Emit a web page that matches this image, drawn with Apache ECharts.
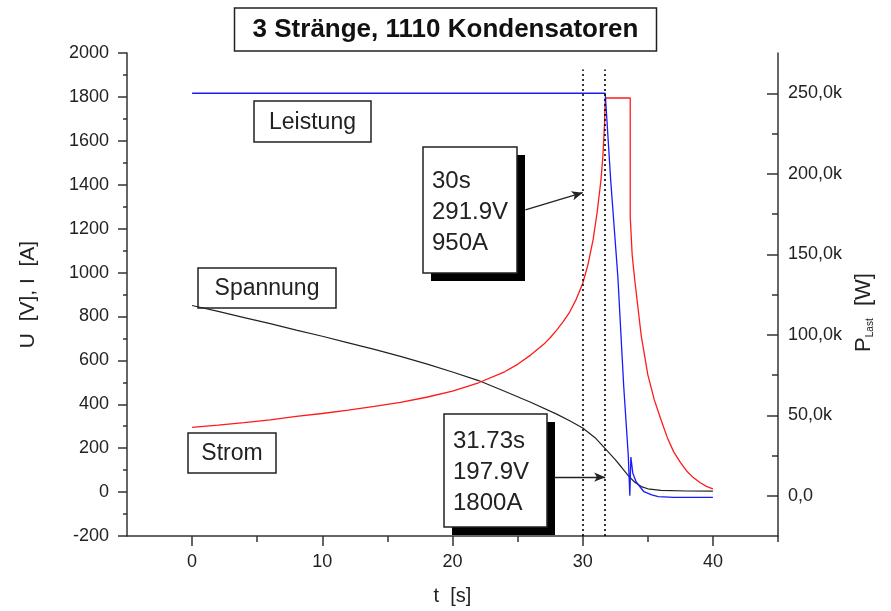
<!DOCTYPE html>
<html>
<head>
<meta charset="utf-8">
<script src="https://cdn.jsdelivr.net/npm/echarts@6/dist/echarts.min.js"></script>
<style>
  html, body { margin: 0; padding: 0; background: #fff; }
  #chart { width: 891px; height: 611px; }
</style>
</head>
<body>
<div id="chart"></div>
<script>
// Strom (rot, linke Achse)
const stromT = [0, 2, 4, 6, 8, 10, 12, 14, 16, 18, 20, 22, 24, 25, 26, 27, 27.5, 28, 28.5, 29, 29.5, 30, 30.4, 30.8, 31.1, 31.4, 31.55, 31.68, 31.73,
  33.65, 33.65, 33.8, 34, 34.5, 35, 35.5, 36, 36.5, 37, 37.5, 38, 38.5, 39, 39.5, 40];
const stromI = [295, 305, 316, 329, 345, 358, 373, 390, 409, 432, 460, 498, 548, 582, 624, 673, 703, 738, 776, 820, 878, 950, 1035, 1150, 1270, 1420, 1530, 1680, 1795,
  1795, 1255, 1080, 965, 710, 535, 420, 332, 248, 182, 135, 95, 66, 44, 26, 15];

// Spannung (schwarz, linke Achse)
const spannungT = [0, 2, 4, 6, 8, 10, 12, 14, 16, 18, 20, 22, 24, 26, 28, 29, 30, 31, 31.73, 32.5, 33, 33.5, 34, 34.5, 35, 36, 38, 40];
const spannungU = [850, 823, 795, 767, 738, 710, 680, 650, 618, 584, 547, 508, 459, 409, 355, 325, 292, 245, 198, 148, 112, 75, 45, 25, 15, 8, 5, 4];

// Leistung (blau, rechte Achse)
const leistungT = [0, 31.73, 32.15, 32.7, 33.15, 33.5, 33.62, 33.7, 33.85, 34.1, 34.7, 35.3, 35.8, 37, 40];
const leistungP = [250000, 250000, 196000, 136000, 68000, 25000, 0, 24000, 14000, 8700, 2500, 500, -500, -1000, -1000];

// Achsen
const xLabels = [0, 10, 20, 30, 40];
const xMinor = [5, 15, 25, 35, 45];
const pLabels = [0, 50000, 100000, 150000, 200000, 250000];
const pMinor = [25000, 75000, 125000, 175000, 225000];

// Markierungen
const markT = [30, 31.73];

const pairs = (xs, ys) => xs.map((x, i) => [x, ys[i]]);

const font = 'Liberation Sans, Arial, sans-serif';
const axisColor = '#333';
const txtColor = '#222';

const chart = echarts.init(document.getElementById('chart'));

function labelBox(x, y, w, h, text) {
  return {
    type: 'group',
    children: [
      { type: 'rect', shape: { x: x, y: y, width: w, height: h },
        style: { fill: '#fff', stroke: '#222', lineWidth: 1.5 } },
      { type: 'text', style: { x: x + w / 2, y: y + h / 2 + 1, text: text, align: 'center', verticalAlign: 'middle',
        font: '23px ' + font, fill: txtColor } }
    ]
  };
}

function infoBox(x, y, w, h, text) {
  return {
    type: 'group',
    children: [
      { type: 'rect', shape: { x: x + 8, y: y + 8, width: w, height: h }, style: { fill: '#000' } },
      { type: 'rect', shape: { x: x, y: y, width: w, height: h },
        style: { fill: '#fff', stroke: '#222', lineWidth: 1.5 } },
      { type: 'text', style: { x: x + 9, y: y + h / 2 + 2, text: text, align: 'left', verticalAlign: 'middle',
        font: '24px ' + font, lineHeight: 31, fill: txtColor } }
    ]
  };
}

const option = {
  animation: false,
  backgroundColor: '#fff',
  textStyle: { fontFamily: font },
  title: {
    text: '3 Stränge, 1110 Kondensatoren',
    left: 'center',
    top: 8,
    padding: [9, 18, 8, 18],
    borderColor: '#222',
    borderWidth: 1.5,
    textStyle: { fontSize: 26, fontWeight: 'bold', color: '#111', fontFamily: font }
  },
  grid: { left: 127, right: 113, top: 53, bottom: 74 },
  xAxis: [
    {
      type: 'value', min: -5, max: 45, position: 'bottom',
      name: 't  [s]', nameLocation: 'middle', nameGap: 50,
      nameTextStyle: { fontSize: 20, color: txtColor },
      axisLine: { onZero: false, lineStyle: { color: axisColor, width: 1.5 } },
      axisTick: { customValues: xLabels, length: 10, lineStyle: { color: axisColor, width: 1.5 } },
      axisLabel: { customValues: xLabels, fontSize: 18, color: txtColor, margin: 17, formatter: v => String(v) },
      splitLine: { show: false }
    },
    {
      type: 'value', min: -5, max: 45, position: 'bottom',
      axisLine: { show: false, onZero: false },
      axisTick: { customValues: xMinor, length: 6, lineStyle: { color: axisColor, width: 1.5 } },
      axisLabel: { show: false },
      splitLine: { show: false }
    }
  ],
  yAxis: [
    {
      type: 'value', min: -200, max: 2000, interval: 200, position: 'left',
      name: 'U  [V], I  [A]', nameLocation: 'middle', nameGap: 88, nameRotate: 90,
      nameTextStyle: { fontSize: 21, color: txtColor },
      axisLine: { show: true, onZero: false, lineStyle: { color: axisColor, width: 1.5 } },
      axisTick: { length: 9, lineStyle: { color: axisColor, width: 1.5 } },
      minorTick: { show: true, splitNumber: 2, length: 4, lineStyle: { color: axisColor, width: 1.5 } },
      axisLabel: { fontSize: 18, color: txtColor, margin: 18, formatter: v => String(v) },
      splitLine: { show: false }
    },
    {
      type: 'value', min: -25000, max: 275000, position: 'right',
      name: 'P{s|Last}  [W]', nameLocation: 'middle', nameGap: 75, nameRotate: 90,
      nameTextStyle: { fontSize: 22, color: txtColor, padding: [0, 36, 0, 0],
        rich: { s: { fontSize: 10, verticalAlign: 'bottom', color: txtColor } } },
      axisLine: { show: true, onZero: false, lineStyle: { color: axisColor, width: 1.5 } },
      axisTick: { inside: true, customValues: pLabels, length: 11, lineStyle: { color: axisColor, width: 1.5 } },
      axisLabel: {
        customValues: pLabels, fontSize: 18, color: txtColor, margin: 10,
        formatter: v => v === 0 ? '0,0' : (v / 1000).toFixed(1).replace('.', ',') + 'k'
      },
      splitLine: { show: false }
    },
    {
      type: 'value', min: -25000, max: 275000, position: 'right',
      axisLine: { show: false, onZero: false },
      axisTick: { inside: true, customValues: pMinor, length: 6, lineStyle: { color: axisColor, width: 1.5 } },
      axisLabel: { show: false },
      splitLine: { show: false }
    }
  ],
  series: [
    {
      name: 'Strom', type: 'line', xAxisIndex: 0, yAxisIndex: 0,
      data: pairs(stromT, stromI), showSymbol: false, symbol: 'none',
      lineStyle: { color: '#ff1a1a', width: 1.3 }, z: 3
    },
    {
      name: 'Spannung', type: 'line', xAxisIndex: 0, yAxisIndex: 0,
      data: pairs(spannungT, spannungU), showSymbol: false, symbol: 'none',
      lineStyle: { color: '#222', width: 1.2 }, z: 2,
      markLine: {
        silent: true, animation: false,
        label: { show: false },
        emphasis: { disabled: true },
        data: [
          [{ coord: [markT[0], -200], symbol: 'none' }, { coord: [markT[0], 1925], symbol: 'none', lineStyle: { color: '#000', width: 1.6, type: [2, 3] } }],
          [{ coord: [markT[1], -200], symbol: 'none' }, { coord: [markT[1], 1925], symbol: 'none', lineStyle: { color: '#000', width: 1.6, type: [2, 3] } }],
          [{ coord: [25.6, 1286], symbol: 'none' }, { coord: [markT[0], 1364], symbol: 'arrow', symbolSize: [7, 11], lineStyle: { color: '#222', width: 1.3, type: 'solid' } }],
          [{ coord: [27.8, 68], symbol: 'none' }, { coord: [markT[1], 68], symbol: 'arrow', symbolSize: [7, 11], lineStyle: { color: '#222', width: 1.3, type: 'solid' } }]
        ],
        lineStyle: { color: '#000', width: 1.5, type: [2, 3] }
      }
    },
    {
      name: 'Leistung', type: 'line', xAxisIndex: 0, yAxisIndex: 1,
      data: pairs(leistungT, leistungP), showSymbol: false, symbol: 'none',
      lineStyle: { color: '#1a1aff', width: 1.3 }, z: 4
    }
  ],
  graphic: [
    labelBox(254, 101, 117, 41, 'Leistung'),
    labelBox(198, 268, 138, 40, 'Spannung'),
    labelBox(188, 433, 88, 40, 'Strom'),
    infoBox(423, 147, 94, 126, '30s\n291.9V\n950A'),
    infoBox(444, 414, 103, 113, '31.73s\n197.9V\n1800A')
  ]
};

chart.setOption(option);
</script>
</body>
</html>
